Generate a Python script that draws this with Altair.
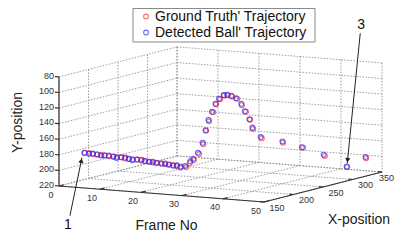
import altair as alt
import pandas as pd

# ---------------- data ----------------
frames = [1, 2, 3, 4, 5, 6, 7, 8, 9, 10, 11, 12, 13, 14, 15, 16, 17, 18, 19, 20,
          21, 22, 23, 24, 25, 26, 27, 28, 29, 30, 31, 32, 33, 34, 35, 36, 37, 38, 39, 40,
          41, 42, 43, 44, 45, 46, 47, 48, 49]

gt_x = [187, 187, 187, 187, 186, 186, 186, 186, 186, 186, 185, 185, 185, 185, 185, 185, 184, 184, 184, 184,
        184, 184, 183, 183, 183,
        185, 184, 184, 186, 186, 184, 182, 182, 180, 180, 180, 179, 179, 181, 182, 182, 182, 180, 188,
        217, 244, 274, 305, 330]
gt_y = [184, 184, 185, 185, 185, 185, 186, 186, 186, 186, 187, 187, 187, 187, 188, 188, 188, 189, 189, 189,
        190, 190, 190, 191, 191,
        192, 186, 182, 174, 161, 143, 130, 118, 107, 100, 95, 94, 95, 98, 106, 114, 124, 135, 148,
        159, 170, 186, 206, 199]

det_x = [186, 187, 186, 187, 187, 185, 186, 187, 185, 186, 186, 185, 184, 185, 186, 184, 185, 184, 183, 185,
         184, 183, 184, 183, 182,
         183, 185, 183, 184, 185, 183, 181, 180, 179, 178, 179, 178, 178, 179, 181, 180, 181, 179, 186,
         216, 242, 272, 304, 329]
det_y = [184, 185, 184, 185, 186, 185, 185, 186, 187, 186, 186, 187, 188, 187, 187, 188, 189, 188, 189, 190,
         189, 190, 191, 190, 192,
         190, 184, 180, 172, 159, 142, 128, 117, 106, 99, 94, 93, 94, 97, 104, 113, 123, 133, 146,
         157, 169, 184, 205, 197]

series_names = ["Ground Truth' Trajectory", "Detected Ball' Trajectory"]
series_colors = ["#ff2a2a", "#2a2aff"]

frame_ticks = [0, 10, 20, 30, 40, 50]
xpos_ticks = [150, 200, 250, 300, 350]
ypos_ticks = [80, 100, 120, 140, 160, 180, 200, 220]

axis_titles = ["Frame No", "X-position", "Y-position"]
ann_labels = ["1", "3"]
ann_index = [0, 47]  # which trajectory sample each note points at

# ---------------- 3D view (orthographic projection) ----------------
F0, F1 = 0, 50
X0, X1 = 150, 350
Y0, Y1 = 80, 220
W, H = 387, 224
OX, OY = 51.0, 178.0
FX, FY = 4.1, 0.32
XX, XY = 0.59, -0.15
YY = 0.779
FONT = "Liberation Sans"

xs = alt.Scale(domain=[0, W], range=[0, W], nice=False, zero=False)
ys = alt.Scale(domain=[0, H], range=[0, H], nice=False, zero=False)


def sx(f, x, off=0):
    return f"{OX} + {FX}*datum.{f} + {XX}*(datum.{x} - {X0}) + ({off})"


def sy(f, x, y, off=0):
    return f"{OY} + {FY}*datum.{f} + {XY}*(datum.{x} - {X0}) + {YY}*(datum.{y} - {Y1}) + ({off})"


def enc_xy(a="a", b="b"):
    return dict(x=alt.X(f"{a}:Q", scale=xs, axis=None), y=alt.Y(f"{b}:Q", scale=ys, axis=None))


def seg_chart(rows, **mark):
    df = pd.DataFrame(rows, columns=["f1", "x1", "y1", "f2", "x2", "y2"])
    return (alt.Chart(df)
            .transform_calculate(a=sx("f1", "x1"), b=sy("f1", "x1", "y1"),
                                 c=sx("f2", "x2"), d=sy("f2", "x2", "y2"))
            .mark_rule(**mark)
            .encode(**enc_xy(), x2="c:Q", y2="d:Q"))


def proj(df, offx=0, offy=0):
    return alt.Chart(df).transform_calculate(a=sx("f", "x", offx), b=sy("f", "x", "y", offy))


# grid (dotted) on left wall, back wall and floor
grid = []
for yv in ypos_ticks:
    grid.append((F0, X0, yv, F0, X1, yv))
    grid.append((F0, X1, yv, F1, X1, yv))
for xv in xpos_ticks:
    grid.append((F0, xv, Y0, F0, xv, Y1))
    grid.append((F0, xv, Y1, F1, xv, Y1))
for fv in frame_ticks:
    grid.append((fv, X1, Y0, fv, X1, Y1))
    grid.append((fv, X0, Y1, fv, X1, Y1))
grid_layer = seg_chart(grid, color="#8c8c8c", strokeWidth=0.85, strokeDash=[1.5, 1.5])

axes = [(F0, X0, Y0, F0, X0, Y1), (F0, X0, Y1, F1, X0, Y1), (F1, X0, Y1, F1, X1, Y1)]
axis_layer = seg_chart(axes, color="#333333", strokeWidth=1.2)

ticks = []
for yv in ypos_ticks:
    ticks.append((F0, X0, yv, F0 - 1, X0, yv))
for fv in frame_ticks:
    ticks.append((fv, X0, Y1, fv, X0 + 8, Y1))
for xv in xpos_ticks:
    ticks.append((F1, xv, Y1, F1 - 1, xv, Y1))
tick_layer = seg_chart(ticks, color="#333333", strokeWidth=1.2)

lab_style = dict(font=FONT, fontSize=9, color="#333333", baseline="middle")
ylab = proj(pd.DataFrame({"f": F0, "x": X0, "y": ypos_ticks, "t": [str(v) for v in ypos_ticks]}), -5, -1.2) \
    .mark_text(align="right", **lab_style).encode(**enc_xy(), text="t:N")
flab = proj(pd.DataFrame({"f": frame_ticks, "x": X0, "y": Y1, "t": [str(v) for v in frame_ticks]}), -8, 8.5) \
    .mark_text(align="center", **lab_style).encode(**enc_xy(), text="t:N")
xlab = proj(pd.DataFrame({"f": F1, "x": xpos_ticks, "y": Y1, "t": [str(v) for v in xpos_ticks]}), 13, 5.5) \
    .transform_calculate(a=f"min(datum.a, {W - 8.5})") \
    .mark_text(align="center", **lab_style).encode(**enc_xy(), text="t:N")

title_style = dict(font=FONT, fontSize=14, color="#222222", baseline="middle", align="center")
t_frame = proj(pd.DataFrame({"f": [25], "x": [X0], "y": [Y1], "t": [axis_titles[0]]}), 5, 32) \
    .mark_text(**title_style).encode(**enc_xy(), text="t:N")
t_xpos = proj(pd.DataFrame({"f": [F1], "x": [250], "y": [Y1], "t": [axis_titles[1]]}), 36, 33) \
    .mark_text(**title_style).encode(**enc_xy(), text="t:N")
t_ypos = proj(pd.DataFrame({"f": [F0], "x": [X0], "y": [150], "t": [axis_titles[2]]}), -41.5, -9) \
    .mark_text(angle=270, **title_style).encode(**enc_xy(), text="t:N")

pt_style = dict(filled=False, shape="circle", size=24, strokeWidth=1.15)
gt_df = pd.DataFrame({"f": frames, "x": gt_x, "y": gt_y})
det_df = pd.DataFrame({"f": frames, "x": det_x, "y": det_y})
gt_layer = proj(gt_df).mark_point(color=series_colors[0], **pt_style).encode(**enc_xy())
det_layer = proj(det_df).mark_point(color=series_colors[1], **pt_style).encode(**enc_xy())

# annotations (arrows + numbers), offsets in screen pixels
ANN = {
    "1": dict(tip=(-3, 5), tail=(-12, 58), head=(-0.6, 2.9), text=(-2, 9), angle=11),
    "3": dict(tip=(0, -4), tail=(13, -130), head=(0.3, -3.0), text=(1, -8), angle=186),
}
ann_layers = []
for lab, idx in zip(ann_labels, ann_index):
    st = ANN[lab]
    df = pd.DataFrame({"f": [frames[idx]], "x": [gt_x[idx]], "y": [gt_y[idx]], "t": [lab]})
    tx, ty = st["tip"]
    lx, ly = st["tail"]
    hx, hy = st["head"]
    ox, oy = st["text"]
    base = proj(df).transform_calculate(
        tipx=f"datum.a + {tx}", tipy=f"datum.b + {ty}",
        tailx=f"datum.a + {tx + lx}", taily=f"datum.b + {ty + ly}",
        headx=f"datum.a + {tx + hx}", heady=f"datum.b + {ty + hy}",
        txtx=f"datum.a + {tx + lx + ox}", txty=f"datum.b + {ty + ly + oy}")
    ann_layers.append(base.mark_rule(color="#222222", strokeWidth=1).encode(
        **enc_xy("tailx", "taily"), x2="tipx:Q", y2="tipy:Q"))
    ann_layers.append(base.mark_point(shape="triangle-up", filled=True, size=28, color="#222222",
                                      angle=st["angle"], opacity=1).encode(**enc_xy("headx", "heady")))
    ann_layers.append(base.mark_text(font=FONT, fontSize=14, color="#111111", align="center",
                                     baseline="middle").encode(**enc_xy("txtx", "txty"), text="t:N"))

# legend box
leg_df = pd.DataFrame({"name": series_names, "color": series_colors, "row": [0, 1]})
leg_box = alt.Chart(pd.DataFrame({"k": [0]})).mark_rect(fill="white", stroke="#8a8a8a", strokeWidth=1).encode(
    x=alt.value(125), x2=alt.value(307), y=alt.value(0.5), y2=alt.value(34))
leg_base = alt.Chart(leg_df).transform_calculate(ly="8.5 + 16*datum.row")
leg_sym = leg_base.mark_point(filled=False, shape="circle", size=22, strokeWidth=1.1).encode(
    x=alt.value(138), y=alt.Y("ly:Q", scale=ys, axis=None),
    color=alt.Color("color:N", scale=None))
leg_txt = leg_base.mark_text(font=FONT, fontSize=14, color="#111111", align="left", baseline="middle").encode(
    x=alt.value(147), y=alt.Y("ly:Q", scale=ys, axis=None), text="name:N")

chart = alt.layer(
    grid_layer, axis_layer, tick_layer, ylab, flab, xlab, t_frame, t_xpos, t_ypos,
    gt_layer, det_layer, *ann_layers, leg_box, leg_sym, leg_txt
).properties(
    width=W, height=H, padding=0, autosize=alt.AutoSizeParams(type="none"),
    background="white"
).configure_view(stroke=None)

chart.save("out.html", embed_options={"renderer": "svg", "actions": False})
